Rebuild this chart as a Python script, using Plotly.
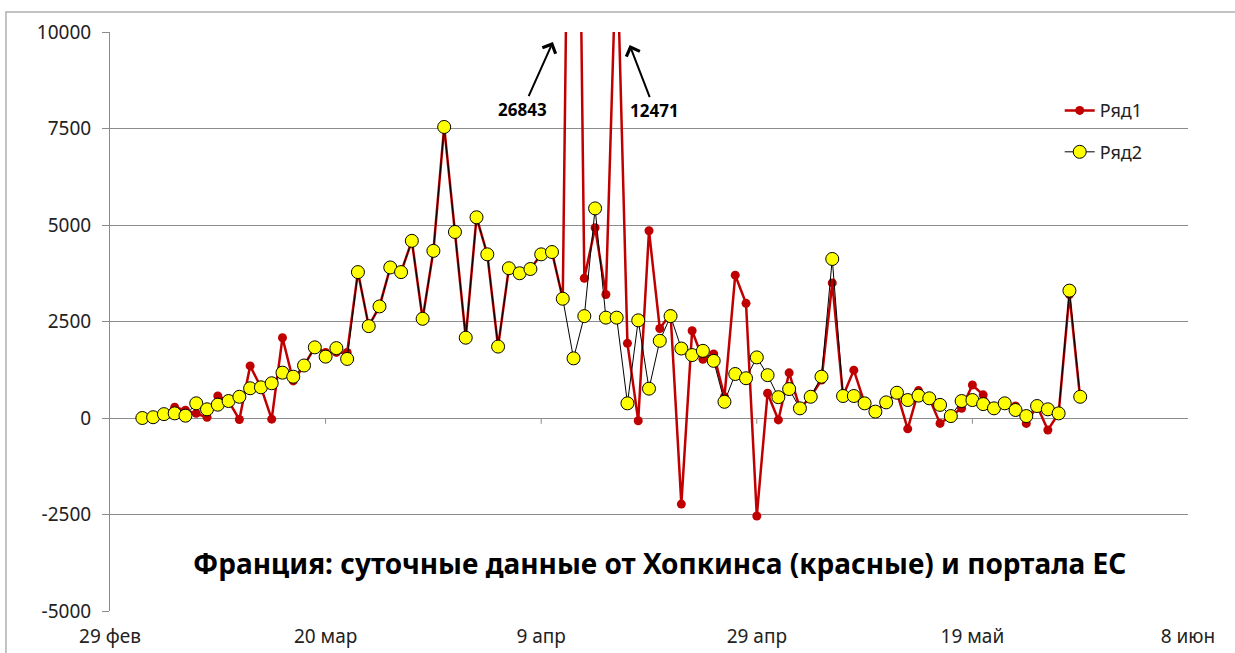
import pandas as pd
import plotly.graph_objects as go

start_date = "2020-03-03"
n_days = 88
dates = pd.date_range(start_date, periods=n_days)

# Ряд1 — Johns Hopkins daily (red)
ryad1 = [0, 20, 100, 280, 200, 120, 20, 570, 440, -40,
         1350, 800, -30, 2080, 960, 1360, 1830, 1700, 1700, 1700,
         3780, 2380, 2890, 3900, 3780, 4590, 2570, 4330, 7540, 4820,
         2080, 5200, 4240, 1850, 3880, 3750, 3860, 4240, 4300, 3090,
         26843, 3620, 4930, 3200, 12471, 1935, -70, 4850, 2320, 2700,
         -2230, 2260, 1520, 1660, 550, 3700, 2970, -2540, 640, -50,
         1170, 250, 550, 985, 3500, 570, 1240, 380, 165, 405,
         655, -280, 710, 510, -140, 50, 250, 855, 600, 230,
         380, 310, -140, 310, -310, 120, 3200, 500]

# Ряд2 — EU portal daily (yellow)
ryad2 = [0, 20, 100, 120, 60, 380, 225, 345, 440, 550,
         770, 795, 900, 1175, 1070, 1360, 1830, 1590, 1810, 1530,
         3780, 2380, 2890, 3900, 3780, 4590, 2570, 4330, 7540, 4820,
         2080, 5200, 4240, 1850, 3880, 3750, 3860, 4240, 4300, 3090,
         1545, 2640, 5430, 2600, 2600, 380, 2530, 760, 2000, 2640,
         1800, 1630, 1740, 1480, 420, 1140, 1030, 1570, 1110, 540,
         750, 250, 550, 1070, 4120, 570, 570, 380, 165, 405,
         655, 465, 580, 510, 340, 50, 440, 465, 360, 250,
         380, 207, 50, 310, 225, 120, 3300, 550]

tick_dates = ["2020-02-29", "2020-03-20", "2020-04-09", "2020-04-29", "2020-05-19", "2020-06-08"]
tick_text = ["29 фев", "20 мар", "9 апр", "29 апр", "19 май", "8 июн"]
y_ticks = [-5000, -2500, 0, 2500, 5000, 7500, 10000]
y_tick_text = ["-5000", "-2500", "0", "2500", "5000", "7500", "10000"]

title_text = "Франция: суточные данные от Хопкинса (красные) и портала ЕС"

FONT = "Noto Sans"
GRID = "#8c8c8c"

fig = go.Figure()
fig.add_trace(go.Scatter(
    x=dates, y=ryad1, name="Ряд1", mode="lines+markers",
    line=dict(color="#C00000", width=2.5),
    marker=dict(color="#C00000", size=9, line=dict(width=0)),
    legendgroup="a",
))
fig.add_trace(go.Scatter(
    x=dates, y=ryad2, name="Ряд2", mode="lines+markers",
    line=dict(color="#000000", width=1),
    marker=dict(color="#FFFF00", size=13, line=dict(color="#000000", width=1)),
    legendgroup="b",
))

# small tick marks on the zero line (Excel axis crossing)
for td in tick_dates[1:-1]:
    fig.add_shape(type="line", xref="x", yref="y", x0=td, x1=td, y0=0, y1=-150,
                  line=dict(color=GRID, width=1))

# outer chart frame
fig.add_shape(type="rect", xref="paper", yref="paper", x0=-0.0965, x1=1.2, y0=-0.3, y1=1.0345,
              line=dict(color="#b0b0b0", width=1.5), layer="below")

# arrows pointing to off-scale values
fig.add_annotation(x=pd.Timestamp("2020-04-10") + pd.Timedelta(hours=2), y=9740, xref="x", yref="y",
                   text="<b>26843</b>", showarrow=True, arrowhead=4, arrowsize=1.4, arrowwidth=2,
                   arrowcolor="#000000", ax=-30, ay=67, font=dict(family=FONT, size=17, color="#000000"))
fig.add_annotation(x=pd.Timestamp("2020-04-17") + pd.Timedelta(hours=5), y=9660, xref="x", yref="y",
                   text="<b>12471</b>", showarrow=True, arrowhead=4, arrowsize=1.4, arrowwidth=2,
                   arrowcolor="#000000", ax=25, ay=65, font=dict(family=FONT, size=17, color="#000000"))

fig.add_annotation(x=0.51, y=-3750, xref="paper", yref="y", text="<b>" + title_text + "</b>",
                   showarrow=False, font=dict(family=FONT, size=28, color="#000000"))

fig.update_layout(
    width=1235, height=653,
    margin=dict(l=110, r=47, t=32, b=42),
    paper_bgcolor="white", plot_bgcolor="white",
    font=dict(family=FONT, size=17, color="#222222"),
    showlegend=True,
    legend=dict(x=0.881, y=0.896, xanchor="left", yanchor="top", bgcolor="rgba(0,0,0,0)",
                font=dict(family=FONT, size=18, color="#222222"), tracegroupgap=15),
    xaxis=dict(range=["2020-02-29", "2020-06-08"], tickmode="array", tickvals=tick_dates,
               ticktext=tick_text, showgrid=False, zeroline=False, showline=False, ticks="",
               ticklabelstandoff=12, automargin=False,
               tickfont=dict(family=FONT, size=19, color="#222222")),
    yaxis=dict(range=[-5000, 10000], tickmode="array", tickvals=y_ticks, ticktext=y_tick_text,
               showgrid=True, gridcolor=GRID, gridwidth=1, zeroline=True, zerolinecolor=GRID,
               zerolinewidth=1, showline=True, linecolor=GRID, linewidth=1, ticks="outside",
               ticklen=7, tickcolor=GRID, ticklabelstandoff=7, automargin=False,
               tickfont=dict(family=FONT, size=19, color="#222222")),
)

fig.write_html("out.html", config={"displayModeBar": False},
               post_script="document.body.style.margin='0';document.body.style.overflow='hidden';")
